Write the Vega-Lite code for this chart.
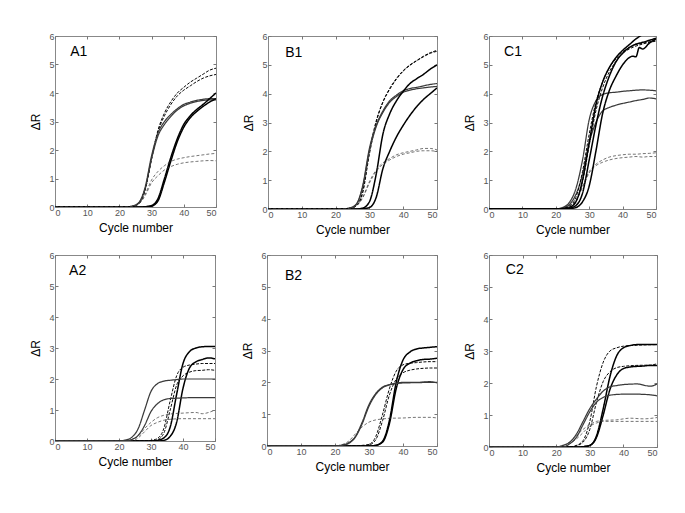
{
"$schema": "https://vega.github.io/schema/vega-lite/v6.json",
"padding": {"left": 29, "top": 31, "right": 5, "bottom": 5},
"background": "white",
"datasets": {"curves": [
{"p":"A1","k":"a","s":"D","x":0,"y":0},{"p":"A1","k":"a","s":"D","x":22,"y":0},{"p":"A1","k":"a","s":"D","x":24,"y":0.02},{"p":"A1","k":"a","s":"D","x":26,"y":0.12},{"p":"A1","k":"a","s":"D","x":28,"y":0.6},{"p":"A1","k":"a","s":"D","x":30,"y":1.7},{"p":"A1","k":"a","s":"D","x":32,"y":2.7},{"p":"A1","k":"a","s":"D","x":34,"y":3.3},{"p":"A1","k":"a","s":"D","x":36,"y":3.7},{"p":"A1","k":"a","s":"D","x":38,"y":4.0},{"p":"A1","k":"a","s":"D","x":40,"y":4.2},{"p":"A1","k":"a","s":"D","x":42,"y":4.38},{"p":"A1","k":"a","s":"D","x":44,"y":4.52},{"p":"A1","k":"a","s":"D","x":46,"y":4.66},{"p":"A1","k":"a","s":"D","x":48,"y":4.8},{"p":"A1","k":"a","s":"D","x":50,"y":4.87},
{"p":"A1","k":"b","s":"D","x":0,"y":0},{"p":"A1","k":"b","s":"D","x":22,"y":0},{"p":"A1","k":"b","s":"D","x":24,"y":0.02},{"p":"A1","k":"b","s":"D","x":26,"y":0.12},{"p":"A1","k":"b","s":"D","x":28,"y":0.6},{"p":"A1","k":"b","s":"D","x":30,"y":1.7},{"p":"A1","k":"b","s":"D","x":32,"y":2.65},{"p":"A1","k":"b","s":"D","x":34,"y":3.2},{"p":"A1","k":"b","s":"D","x":36,"y":3.6},{"p":"A1","k":"b","s":"D","x":38,"y":3.9},{"p":"A1","k":"b","s":"D","x":40,"y":4.1},{"p":"A1","k":"b","s":"D","x":42,"y":4.25},{"p":"A1","k":"b","s":"D","x":44,"y":4.4},{"p":"A1","k":"b","s":"D","x":46,"y":4.52},{"p":"A1","k":"b","s":"D","x":48,"y":4.6},{"p":"A1","k":"b","s":"D","x":50,"y":4.65},
{"p":"A1","k":"c","s":"t","x":0,"y":0},{"p":"A1","k":"c","s":"t","x":22,"y":0},{"p":"A1","k":"c","s":"t","x":24,"y":0.03},{"p":"A1","k":"c","s":"t","x":26,"y":0.15},{"p":"A1","k":"c","s":"t","x":28,"y":0.7},{"p":"A1","k":"c","s":"t","x":30,"y":1.8},{"p":"A1","k":"c","s":"t","x":32,"y":2.6},{"p":"A1","k":"c","s":"t","x":34,"y":3.0},{"p":"A1","k":"c","s":"t","x":36,"y":3.25},{"p":"A1","k":"c","s":"t","x":38,"y":3.45},{"p":"A1","k":"c","s":"t","x":40,"y":3.6},{"p":"A1","k":"c","s":"t","x":42,"y":3.68},{"p":"A1","k":"c","s":"t","x":44,"y":3.74},{"p":"A1","k":"c","s":"t","x":46,"y":3.78},{"p":"A1","k":"c","s":"t","x":48,"y":3.8},{"p":"A1","k":"c","s":"t","x":50,"y":3.8},
{"p":"A1","k":"d","s":"t","x":0,"y":0},{"p":"A1","k":"d","s":"t","x":22,"y":0},{"p":"A1","k":"d","s":"t","x":24,"y":0.03},{"p":"A1","k":"d","s":"t","x":26,"y":0.14},{"p":"A1","k":"d","s":"t","x":28,"y":0.65},{"p":"A1","k":"d","s":"t","x":30,"y":1.7},{"p":"A1","k":"d","s":"t","x":32,"y":2.5},{"p":"A1","k":"d","s":"t","x":34,"y":2.9},{"p":"A1","k":"d","s":"t","x":36,"y":3.18},{"p":"A1","k":"d","s":"t","x":38,"y":3.4},{"p":"A1","k":"d","s":"t","x":40,"y":3.55},{"p":"A1","k":"d","s":"t","x":42,"y":3.64},{"p":"A1","k":"d","s":"t","x":44,"y":3.7},{"p":"A1","k":"d","s":"t","x":46,"y":3.74},{"p":"A1","k":"d","s":"t","x":48,"y":3.76},{"p":"A1","k":"d","s":"t","x":50,"y":3.76},
{"p":"A1","k":"e","s":"T","x":0,"y":0},{"p":"A1","k":"e","s":"T","x":26,"y":0},{"p":"A1","k":"e","s":"T","x":28,"y":0.01},{"p":"A1","k":"e","s":"T","x":30,"y":0.05},{"p":"A1","k":"e","s":"T","x":32,"y":0.3},{"p":"A1","k":"e","s":"T","x":34,"y":1.0},{"p":"A1","k":"e","s":"T","x":36,"y":1.75},{"p":"A1","k":"e","s":"T","x":38,"y":2.4},{"p":"A1","k":"e","s":"T","x":40,"y":2.9},{"p":"A1","k":"e","s":"T","x":42,"y":3.2},{"p":"A1","k":"e","s":"T","x":44,"y":3.42},{"p":"A1","k":"e","s":"T","x":46,"y":3.6},{"p":"A1","k":"e","s":"T","x":48,"y":3.8},{"p":"A1","k":"e","s":"T","x":50,"y":4.0},
{"p":"A1","k":"f","s":"T","x":0,"y":0},{"p":"A1","k":"f","s":"T","x":26,"y":0},{"p":"A1","k":"f","s":"T","x":28,"y":0.01},{"p":"A1","k":"f","s":"T","x":30,"y":0.03},{"p":"A1","k":"f","s":"T","x":32,"y":0.22},{"p":"A1","k":"f","s":"T","x":34,"y":0.88},{"p":"A1","k":"f","s":"T","x":36,"y":1.62},{"p":"A1","k":"f","s":"T","x":38,"y":2.3},{"p":"A1","k":"f","s":"T","x":40,"y":2.8},{"p":"A1","k":"f","s":"T","x":42,"y":3.13},{"p":"A1","k":"f","s":"T","x":44,"y":3.35},{"p":"A1","k":"f","s":"T","x":46,"y":3.53},{"p":"A1","k":"f","s":"T","x":48,"y":3.68},{"p":"A1","k":"f","s":"T","x":50,"y":3.8},
{"p":"A1","k":"g","s":"d","x":0,"y":0},{"p":"A1","k":"g","s":"d","x":22,"y":0},{"p":"A1","k":"g","s":"d","x":24,"y":0.02},{"p":"A1","k":"g","s":"d","x":26,"y":0.1},{"p":"A1","k":"g","s":"d","x":28,"y":0.45},{"p":"A1","k":"g","s":"d","x":30,"y":0.95},{"p":"A1","k":"g","s":"d","x":32,"y":1.25},{"p":"A1","k":"g","s":"d","x":34,"y":1.45},{"p":"A1","k":"g","s":"d","x":36,"y":1.6},{"p":"A1","k":"g","s":"d","x":38,"y":1.68},{"p":"A1","k":"g","s":"d","x":40,"y":1.73},{"p":"A1","k":"g","s":"d","x":42,"y":1.77},{"p":"A1","k":"g","s":"d","x":44,"y":1.8},{"p":"A1","k":"g","s":"d","x":46,"y":1.83},{"p":"A1","k":"g","s":"d","x":48,"y":1.86},{"p":"A1","k":"g","s":"d","x":50,"y":1.88},
{"p":"A1","k":"h","s":"d","x":0,"y":0},{"p":"A1","k":"h","s":"d","x":22,"y":0},{"p":"A1","k":"h","s":"d","x":24,"y":0.02},{"p":"A1","k":"h","s":"d","x":26,"y":0.1},{"p":"A1","k":"h","s":"d","x":28,"y":0.4},{"p":"A1","k":"h","s":"d","x":30,"y":0.85},{"p":"A1","k":"h","s":"d","x":32,"y":1.1},{"p":"A1","k":"h","s":"d","x":34,"y":1.3},{"p":"A1","k":"h","s":"d","x":36,"y":1.42},{"p":"A1","k":"h","s":"d","x":38,"y":1.5},{"p":"A1","k":"h","s":"d","x":40,"y":1.55},{"p":"A1","k":"h","s":"d","x":42,"y":1.58},{"p":"A1","k":"h","s":"d","x":44,"y":1.6},{"p":"A1","k":"h","s":"d","x":46,"y":1.62},{"p":"A1","k":"h","s":"d","x":48,"y":1.63},{"p":"A1","k":"h","s":"d","x":50,"y":1.62},

{"p":"B1","k":"a","s":"D","x":0,"y":0},{"p":"B1","k":"a","s":"D","x":22,"y":0},{"p":"B1","k":"a","s":"D","x":24,"y":0.02},{"p":"B1","k":"a","s":"D","x":26,"y":0.1},{"p":"B1","k":"a","s":"D","x":28,"y":0.6},{"p":"B1","k":"a","s":"D","x":30,"y":2.0},{"p":"B1","k":"a","s":"D","x":32,"y":3.05},{"p":"B1","k":"a","s":"D","x":34,"y":3.72},{"p":"B1","k":"a","s":"D","x":36,"y":4.18},{"p":"B1","k":"a","s":"D","x":38,"y":4.53},{"p":"B1","k":"a","s":"D","x":40,"y":4.8},{"p":"B1","k":"a","s":"D","x":42,"y":5.0},{"p":"B1","k":"a","s":"D","x":44,"y":5.15},{"p":"B1","k":"a","s":"D","x":46,"y":5.3},{"p":"B1","k":"a","s":"D","x":48,"y":5.42},{"p":"B1","k":"a","s":"D","x":50,"y":5.5},
{"p":"B1","k":"b","s":"D","x":0,"y":0},{"p":"B1","k":"b","s":"D","x":22,"y":0},{"p":"B1","k":"b","s":"D","x":24,"y":0.02},{"p":"B1","k":"b","s":"D","x":26,"y":0.1},{"p":"B1","k":"b","s":"D","x":28,"y":0.55},{"p":"B1","k":"b","s":"D","x":30,"y":1.9},{"p":"B1","k":"b","s":"D","x":32,"y":3.0},{"p":"B1","k":"b","s":"D","x":34,"y":3.7},{"p":"B1","k":"b","s":"D","x":36,"y":4.15},{"p":"B1","k":"b","s":"D","x":38,"y":4.5},{"p":"B1","k":"b","s":"D","x":40,"y":4.78},{"p":"B1","k":"b","s":"D","x":42,"y":4.98},{"p":"B1","k":"b","s":"D","x":44,"y":5.14},{"p":"B1","k":"b","s":"D","x":46,"y":5.28},{"p":"B1","k":"b","s":"D","x":48,"y":5.4},{"p":"B1","k":"b","s":"D","x":50,"y":5.47},
{"p":"B1","k":"c","s":"t","x":0,"y":0},{"p":"B1","k":"c","s":"t","x":22,"y":0},{"p":"B1","k":"c","s":"t","x":24,"y":0.03},{"p":"B1","k":"c","s":"t","x":26,"y":0.15},{"p":"B1","k":"c","s":"t","x":28,"y":0.8},{"p":"B1","k":"c","s":"t","x":30,"y":2.1},{"p":"B1","k":"c","s":"t","x":32,"y":2.9},{"p":"B1","k":"c","s":"t","x":34,"y":3.4},{"p":"B1","k":"c","s":"t","x":36,"y":3.75},{"p":"B1","k":"c","s":"t","x":38,"y":3.95},{"p":"B1","k":"c","s":"t","x":40,"y":4.1},{"p":"B1","k":"c","s":"t","x":42,"y":4.18},{"p":"B1","k":"c","s":"t","x":44,"y":4.22},{"p":"B1","k":"c","s":"t","x":46,"y":4.27},{"p":"B1","k":"c","s":"t","x":48,"y":4.32},{"p":"B1","k":"c","s":"t","x":50,"y":4.35},
{"p":"B1","k":"d","s":"t","x":0,"y":0},{"p":"B1","k":"d","s":"t","x":22,"y":0},{"p":"B1","k":"d","s":"t","x":24,"y":0.03},{"p":"B1","k":"d","s":"t","x":26,"y":0.14},{"p":"B1","k":"d","s":"t","x":28,"y":0.75},{"p":"B1","k":"d","s":"t","x":30,"y":2.0},{"p":"B1","k":"d","s":"t","x":32,"y":2.85},{"p":"B1","k":"d","s":"t","x":34,"y":3.35},{"p":"B1","k":"d","s":"t","x":36,"y":3.7},{"p":"B1","k":"d","s":"t","x":38,"y":3.9},{"p":"B1","k":"d","s":"t","x":40,"y":4.05},{"p":"B1","k":"d","s":"t","x":42,"y":4.12},{"p":"B1","k":"d","s":"t","x":44,"y":4.17},{"p":"B1","k":"d","s":"t","x":46,"y":4.2},{"p":"B1","k":"d","s":"t","x":48,"y":4.23},{"p":"B1","k":"d","s":"t","x":50,"y":4.25},
{"p":"B1","k":"e","s":"T","x":0,"y":0},{"p":"B1","k":"e","s":"T","x":26,"y":0},{"p":"B1","k":"e","s":"T","x":28,"y":0.03},{"p":"B1","k":"e","s":"T","x":30,"y":0.25},{"p":"B1","k":"e","s":"T","x":32,"y":1.2},{"p":"B1","k":"e","s":"T","x":34,"y":2.6},{"p":"B1","k":"e","s":"T","x":36,"y":3.3},{"p":"B1","k":"e","s":"T","x":38,"y":3.75},{"p":"B1","k":"e","s":"T","x":40,"y":4.08},{"p":"B1","k":"e","s":"T","x":42,"y":4.35},{"p":"B1","k":"e","s":"T","x":44,"y":4.52},{"p":"B1","k":"e","s":"T","x":46,"y":4.67},{"p":"B1","k":"e","s":"T","x":48,"y":4.85},{"p":"B1","k":"e","s":"T","x":50,"y":5.0},
{"p":"B1","k":"f","s":"T","x":0,"y":0},{"p":"B1","k":"f","s":"T","x":26,"y":0},{"p":"B1","k":"f","s":"T","x":28,"y":0.01},{"p":"B1","k":"f","s":"T","x":30,"y":0.05},{"p":"B1","k":"f","s":"T","x":32,"y":0.4},{"p":"B1","k":"f","s":"T","x":34,"y":1.4},{"p":"B1","k":"f","s":"T","x":36,"y":2.0},{"p":"B1","k":"f","s":"T","x":38,"y":2.5},{"p":"B1","k":"f","s":"T","x":40,"y":2.9},{"p":"B1","k":"f","s":"T","x":42,"y":3.25},{"p":"B1","k":"f","s":"T","x":44,"y":3.55},{"p":"B1","k":"f","s":"T","x":46,"y":3.8},{"p":"B1","k":"f","s":"T","x":48,"y":4.0},{"p":"B1","k":"f","s":"T","x":50,"y":4.2},
{"p":"B1","k":"g","s":"d","x":0,"y":0},{"p":"B1","k":"g","s":"d","x":22,"y":0},{"p":"B1","k":"g","s":"d","x":24,"y":0.02},{"p":"B1","k":"g","s":"d","x":26,"y":0.1},{"p":"B1","k":"g","s":"d","x":28,"y":0.4},{"p":"B1","k":"g","s":"d","x":30,"y":0.95},{"p":"B1","k":"g","s":"d","x":32,"y":1.35},{"p":"B1","k":"g","s":"d","x":34,"y":1.6},{"p":"B1","k":"g","s":"d","x":36,"y":1.75},{"p":"B1","k":"g","s":"d","x":38,"y":1.88},{"p":"B1","k":"g","s":"d","x":40,"y":1.95},{"p":"B1","k":"g","s":"d","x":42,"y":2.0},{"p":"B1","k":"g","s":"d","x":44,"y":2.05},{"p":"B1","k":"g","s":"d","x":46,"y":2.1},{"p":"B1","k":"g","s":"d","x":48,"y":2.1},{"p":"B1","k":"g","s":"d","x":50,"y":2.05},
{"p":"B1","k":"h","s":"d","x":0,"y":0},{"p":"B1","k":"h","s":"d","x":22,"y":0},{"p":"B1","k":"h","s":"d","x":24,"y":0.02},{"p":"B1","k":"h","s":"d","x":26,"y":0.1},{"p":"B1","k":"h","s":"d","x":28,"y":0.38},{"p":"B1","k":"h","s":"d","x":30,"y":0.9},{"p":"B1","k":"h","s":"d","x":32,"y":1.3},{"p":"B1","k":"h","s":"d","x":34,"y":1.55},{"p":"B1","k":"h","s":"d","x":36,"y":1.7},{"p":"B1","k":"h","s":"d","x":38,"y":1.82},{"p":"B1","k":"h","s":"d","x":40,"y":1.9},{"p":"B1","k":"h","s":"d","x":42,"y":1.95},{"p":"B1","k":"h","s":"d","x":44,"y":2.0},{"p":"B1","k":"h","s":"d","x":46,"y":2.02},{"p":"B1","k":"h","s":"d","x":48,"y":2.02},{"p":"B1","k":"h","s":"d","x":50,"y":2.0},

{"p":"C1","k":"a","s":"t","x":0,"y":0},{"p":"C1","k":"a","s":"t","x":20,"y":0},{"p":"C1","k":"a","s":"t","x":22,"y":0.05},{"p":"C1","k":"a","s":"t","x":24,"y":0.22},{"p":"C1","k":"a","s":"t","x":26,"y":0.7},{"p":"C1","k":"a","s":"t","x":28,"y":1.7},{"p":"C1","k":"a","s":"t","x":30,"y":3.1},{"p":"C1","k":"a","s":"t","x":32,"y":3.75},{"p":"C1","k":"a","s":"t","x":34,"y":3.97},{"p":"C1","k":"a","s":"t","x":36,"y":4.03},{"p":"C1","k":"a","s":"t","x":38,"y":4.05},{"p":"C1","k":"a","s":"t","x":40,"y":4.08},{"p":"C1","k":"a","s":"t","x":42,"y":4.1},{"p":"C1","k":"a","s":"t","x":44,"y":4.12},{"p":"C1","k":"a","s":"t","x":46,"y":4.13},{"p":"C1","k":"a","s":"t","x":48,"y":4.12},{"p":"C1","k":"a","s":"t","x":50,"y":4.1},
{"p":"C1","k":"b","s":"t","x":0,"y":0},{"p":"C1","k":"b","s":"t","x":20,"y":0},{"p":"C1","k":"b","s":"t","x":22,"y":0.04},{"p":"C1","k":"b","s":"t","x":24,"y":0.15},{"p":"C1","k":"b","s":"t","x":26,"y":0.5},{"p":"C1","k":"b","s":"t","x":28,"y":1.2},{"p":"C1","k":"b","s":"t","x":30,"y":2.3},{"p":"C1","k":"b","s":"t","x":32,"y":3.0},{"p":"C1","k":"b","s":"t","x":34,"y":3.4},{"p":"C1","k":"b","s":"t","x":36,"y":3.52},{"p":"C1","k":"b","s":"t","x":38,"y":3.6},{"p":"C1","k":"b","s":"t","x":40,"y":3.66},{"p":"C1","k":"b","s":"t","x":42,"y":3.71},{"p":"C1","k":"b","s":"t","x":44,"y":3.76},{"p":"C1","k":"b","s":"t","x":46,"y":3.8},{"p":"C1","k":"b","s":"t","x":48,"y":3.85},{"p":"C1","k":"b","s":"t","x":50,"y":3.82},
{"p":"C1","k":"c","s":"d","x":0,"y":0},{"p":"C1","k":"c","s":"d","x":20,"y":0},{"p":"C1","k":"c","s":"d","x":22,"y":0.03},{"p":"C1","k":"c","s":"d","x":24,"y":0.12},{"p":"C1","k":"c","s":"d","x":26,"y":0.3},{"p":"C1","k":"c","s":"d","x":28,"y":0.8},{"p":"C1","k":"c","s":"d","x":30,"y":1.3},{"p":"C1","k":"c","s":"d","x":32,"y":1.55},{"p":"C1","k":"c","s":"d","x":34,"y":1.7},{"p":"C1","k":"c","s":"d","x":36,"y":1.8},{"p":"C1","k":"c","s":"d","x":38,"y":1.85},{"p":"C1","k":"c","s":"d","x":40,"y":1.88},{"p":"C1","k":"c","s":"d","x":42,"y":1.9},{"p":"C1","k":"c","s":"d","x":44,"y":1.9},{"p":"C1","k":"c","s":"d","x":46,"y":1.92},{"p":"C1","k":"c","s":"d","x":48,"y":1.93},{"p":"C1","k":"c","s":"d","x":50,"y":1.95},
{"p":"C1","k":"d","s":"d","x":0,"y":0},{"p":"C1","k":"d","s":"d","x":20,"y":0},{"p":"C1","k":"d","s":"d","x":22,"y":0.03},{"p":"C1","k":"d","s":"d","x":24,"y":0.1},{"p":"C1","k":"d","s":"d","x":26,"y":0.28},{"p":"C1","k":"d","s":"d","x":28,"y":0.75},{"p":"C1","k":"d","s":"d","x":30,"y":1.25},{"p":"C1","k":"d","s":"d","x":32,"y":1.5},{"p":"C1","k":"d","s":"d","x":34,"y":1.62},{"p":"C1","k":"d","s":"d","x":36,"y":1.7},{"p":"C1","k":"d","s":"d","x":38,"y":1.75},{"p":"C1","k":"d","s":"d","x":40,"y":1.78},{"p":"C1","k":"d","s":"d","x":42,"y":1.8},{"p":"C1","k":"d","s":"d","x":44,"y":1.82},{"p":"C1","k":"d","s":"d","x":46,"y":1.8},{"p":"C1","k":"d","s":"d","x":48,"y":1.82},{"p":"C1","k":"d","s":"d","x":50,"y":1.82},
{"p":"C1","k":"e","s":"D","x":0,"y":0},{"p":"C1","k":"e","s":"D","x":20,"y":0},{"p":"C1","k":"e","s":"D","x":22,"y":0.02},{"p":"C1","k":"e","s":"D","x":24,"y":0.1},{"p":"C1","k":"e","s":"D","x":26,"y":0.4},{"p":"C1","k":"e","s":"D","x":28,"y":1.3},{"p":"C1","k":"e","s":"D","x":30,"y":2.6},{"p":"C1","k":"e","s":"D","x":32,"y":3.7},{"p":"C1","k":"e","s":"D","x":34,"y":4.4},{"p":"C1","k":"e","s":"D","x":36,"y":4.9},{"p":"C1","k":"e","s":"D","x":38,"y":5.2},{"p":"C1","k":"e","s":"D","x":40,"y":5.45},{"p":"C1","k":"e","s":"D","x":42,"y":5.6},{"p":"C1","k":"e","s":"D","x":44,"y":5.7},{"p":"C1","k":"e","s":"D","x":46,"y":5.75},{"p":"C1","k":"e","s":"D","x":48,"y":5.8},{"p":"C1","k":"e","s":"D","x":50,"y":5.85},
{"p":"C1","k":"f","s":"D","x":0,"y":0},{"p":"C1","k":"f","s":"D","x":20,"y":0},{"p":"C1","k":"f","s":"D","x":22,"y":0.02},{"p":"C1","k":"f","s":"D","x":24,"y":0.06},{"p":"C1","k":"f","s":"D","x":26,"y":0.25},{"p":"C1","k":"f","s":"D","x":28,"y":0.95},{"p":"C1","k":"f","s":"D","x":30,"y":2.2},{"p":"C1","k":"f","s":"D","x":32,"y":3.4},{"p":"C1","k":"f","s":"D","x":34,"y":4.2},{"p":"C1","k":"f","s":"D","x":36,"y":4.75},{"p":"C1","k":"f","s":"D","x":38,"y":5.12},{"p":"C1","k":"f","s":"D","x":40,"y":5.4},{"p":"C1","k":"f","s":"D","x":42,"y":5.55},{"p":"C1","k":"f","s":"D","x":44,"y":5.65},{"p":"C1","k":"f","s":"D","x":46,"y":5.72},{"p":"C1","k":"f","s":"D","x":48,"y":5.78},{"p":"C1","k":"f","s":"D","x":50,"y":5.82},
{"p":"C1","k":"g","s":"T","x":0,"y":0},{"p":"C1","k":"g","s":"T","x":20,"y":0},{"p":"C1","k":"g","s":"T","x":22,"y":0.01},{"p":"C1","k":"g","s":"T","x":24,"y":0.05},{"p":"C1","k":"g","s":"T","x":26,"y":0.25},{"p":"C1","k":"g","s":"T","x":28,"y":1.0},{"p":"C1","k":"g","s":"T","x":30,"y":2.3},{"p":"C1","k":"g","s":"T","x":32,"y":3.6},{"p":"C1","k":"g","s":"T","x":34,"y":4.4},{"p":"C1","k":"g","s":"T","x":36,"y":4.9},{"p":"C1","k":"g","s":"T","x":38,"y":5.25},{"p":"C1","k":"g","s":"T","x":40,"y":5.5},{"p":"C1","k":"g","s":"T","x":42,"y":5.7},{"p":"C1","k":"g","s":"T","x":44,"y":5.9},{"p":"C1","k":"g","s":"T","x":46,"y":6.05},{"p":"C1","k":"g","s":"T","x":48,"y":6.2},{"p":"C1","k":"g","s":"T","x":50,"y":6.3},
{"p":"C1","k":"h","s":"T","x":0,"y":0},{"p":"C1","k":"h","s":"T","x":22,"y":0},{"p":"C1","k":"h","s":"T","x":24,"y":0.01},{"p":"C1","k":"h","s":"T","x":26,"y":0.05},{"p":"C1","k":"h","s":"T","x":28,"y":0.25},{"p":"C1","k":"h","s":"T","x":30,"y":0.8},{"p":"C1","k":"h","s":"T","x":32,"y":2.0},{"p":"C1","k":"h","s":"T","x":34,"y":3.3},{"p":"C1","k":"h","s":"T","x":36,"y":4.1},{"p":"C1","k":"h","s":"T","x":38,"y":4.6},{"p":"C1","k":"h","s":"T","x":40,"y":5.0},{"p":"C1","k":"h","s":"T","x":42,"y":5.25},{"p":"C1","k":"h","s":"T","x":43,"y":5.3},{"p":"C1","k":"h","s":"T","x":44,"y":5.28},{"p":"C1","k":"h","s":"T","x":45,"y":5.6},{"p":"C1","k":"h","s":"T","x":46,"y":5.55},{"p":"C1","k":"h","s":"T","x":48,"y":5.75},{"p":"C1","k":"h","s":"T","x":50,"y":5.9},
{"p":"C1","k":"i","s":"T","x":0,"y":0},{"p":"C1","k":"i","s":"T","x":22,"y":0},{"p":"C1","k":"i","s":"T","x":24,"y":0.03},{"p":"C1","k":"i","s":"T","x":26,"y":0.12},{"p":"C1","k":"i","s":"T","x":28,"y":0.55},{"p":"C1","k":"i","s":"T","x":30,"y":1.7},{"p":"C1","k":"i","s":"T","x":32,"y":2.9},{"p":"C1","k":"i","s":"T","x":34,"y":3.9},{"p":"C1","k":"i","s":"T","x":36,"y":4.6},{"p":"C1","k":"i","s":"T","x":38,"y":5.1},{"p":"C1","k":"i","s":"T","x":40,"y":5.4},{"p":"C1","k":"i","s":"T","x":42,"y":5.6},{"p":"C1","k":"i","s":"T","x":44,"y":5.72},{"p":"C1","k":"i","s":"T","x":46,"y":5.78},{"p":"C1","k":"i","s":"T","x":48,"y":5.85},{"p":"C1","k":"i","s":"T","x":50,"y":5.92},

{"p":"A2","k":"a","s":"T","x":0,"y":0},{"p":"A2","k":"a","s":"T","x":30,"y":0},{"p":"A2","k":"a","s":"T","x":32,"y":0.02},{"p":"A2","k":"a","s":"T","x":34,"y":0.1},{"p":"A2","k":"a","s":"T","x":36,"y":0.45},{"p":"A2","k":"a","s":"T","x":38,"y":1.5},{"p":"A2","k":"a","s":"T","x":40,"y":2.5},{"p":"A2","k":"a","s":"T","x":42,"y":2.88},{"p":"A2","k":"a","s":"T","x":44,"y":3.0},{"p":"A2","k":"a","s":"T","x":46,"y":3.04},{"p":"A2","k":"a","s":"T","x":48,"y":3.05},{"p":"A2","k":"a","s":"T","x":50,"y":3.05},
{"p":"A2","k":"b","s":"T","x":0,"y":0},{"p":"A2","k":"b","s":"T","x":32,"y":0},{"p":"A2","k":"b","s":"T","x":34,"y":0.02},{"p":"A2","k":"b","s":"T","x":36,"y":0.15},{"p":"A2","k":"b","s":"T","x":38,"y":0.6},{"p":"A2","k":"b","s":"T","x":40,"y":1.7},{"p":"A2","k":"b","s":"T","x":42,"y":2.35},{"p":"A2","k":"b","s":"T","x":44,"y":2.55},{"p":"A2","k":"b","s":"T","x":46,"y":2.63},{"p":"A2","k":"b","s":"T","x":48,"y":2.68},{"p":"A2","k":"b","s":"T","x":50,"y":2.65},
{"p":"A2","k":"c","s":"D","x":0,"y":0},{"p":"A2","k":"c","s":"D","x":28,"y":0},{"p":"A2","k":"c","s":"D","x":30,"y":0.02},{"p":"A2","k":"c","s":"D","x":32,"y":0.08},{"p":"A2","k":"c","s":"D","x":34,"y":0.4},{"p":"A2","k":"c","s":"D","x":36,"y":1.3},{"p":"A2","k":"c","s":"D","x":38,"y":2.1},{"p":"A2","k":"c","s":"D","x":40,"y":2.38},{"p":"A2","k":"c","s":"D","x":42,"y":2.45},{"p":"A2","k":"c","s":"D","x":44,"y":2.48},{"p":"A2","k":"c","s":"D","x":46,"y":2.5},{"p":"A2","k":"c","s":"D","x":48,"y":2.5},{"p":"A2","k":"c","s":"D","x":50,"y":2.5},
{"p":"A2","k":"d","s":"D","x":0,"y":0},{"p":"A2","k":"d","s":"D","x":30,"y":0},{"p":"A2","k":"d","s":"D","x":32,"y":0.04},{"p":"A2","k":"d","s":"D","x":34,"y":0.25},{"p":"A2","k":"d","s":"D","x":36,"y":1.0},{"p":"A2","k":"d","s":"D","x":38,"y":1.8},{"p":"A2","k":"d","s":"D","x":40,"y":2.1},{"p":"A2","k":"d","s":"D","x":42,"y":2.22},{"p":"A2","k":"d","s":"D","x":44,"y":2.27},{"p":"A2","k":"d","s":"D","x":46,"y":2.28},{"p":"A2","k":"d","s":"D","x":48,"y":2.3},{"p":"A2","k":"d","s":"D","x":50,"y":2.28},
{"p":"A2","k":"e","s":"t","x":0,"y":0},{"p":"A2","k":"e","s":"t","x":20,"y":0},{"p":"A2","k":"e","s":"t","x":22,"y":0.03},{"p":"A2","k":"e","s":"t","x":24,"y":0.12},{"p":"A2","k":"e","s":"t","x":26,"y":0.4},{"p":"A2","k":"e","s":"t","x":28,"y":1.0},{"p":"A2","k":"e","s":"t","x":30,"y":1.6},{"p":"A2","k":"e","s":"t","x":32,"y":1.85},{"p":"A2","k":"e","s":"t","x":34,"y":1.93},{"p":"A2","k":"e","s":"t","x":36,"y":1.96},{"p":"A2","k":"e","s":"t","x":38,"y":1.98},{"p":"A2","k":"e","s":"t","x":40,"y":2.0},{"p":"A2","k":"e","s":"t","x":44,"y":2.0},{"p":"A2","k":"e","s":"t","x":50,"y":2.0},
{"p":"A2","k":"f","s":"t","x":0,"y":0},{"p":"A2","k":"f","s":"t","x":22,"y":0},{"p":"A2","k":"f","s":"t","x":24,"y":0.05},{"p":"A2","k":"f","s":"t","x":26,"y":0.18},{"p":"A2","k":"f","s":"t","x":28,"y":0.5},{"p":"A2","k":"f","s":"t","x":30,"y":0.95},{"p":"A2","k":"f","s":"t","x":32,"y":1.2},{"p":"A2","k":"f","s":"t","x":34,"y":1.33},{"p":"A2","k":"f","s":"t","x":36,"y":1.37},{"p":"A2","k":"f","s":"t","x":38,"y":1.38},{"p":"A2","k":"f","s":"t","x":40,"y":1.39},{"p":"A2","k":"f","s":"t","x":44,"y":1.4},{"p":"A2","k":"f","s":"t","x":50,"y":1.4},
{"p":"A2","k":"g","s":"d","x":0,"y":0},{"p":"A2","k":"g","s":"d","x":22,"y":0},{"p":"A2","k":"g","s":"d","x":24,"y":0.05},{"p":"A2","k":"g","s":"d","x":26,"y":0.15},{"p":"A2","k":"g","s":"d","x":28,"y":0.4},{"p":"A2","k":"g","s":"d","x":30,"y":0.6},{"p":"A2","k":"g","s":"d","x":32,"y":0.75},{"p":"A2","k":"g","s":"d","x":34,"y":0.83},{"p":"A2","k":"g","s":"d","x":36,"y":0.87},{"p":"A2","k":"g","s":"d","x":40,"y":0.9},{"p":"A2","k":"g","s":"d","x":44,"y":0.92},{"p":"A2","k":"g","s":"d","x":46,"y":0.88},{"p":"A2","k":"g","s":"d","x":48,"y":0.92},{"p":"A2","k":"g","s":"d","x":50,"y":1.0},
{"p":"A2","k":"h","s":"d","x":0,"y":0},{"p":"A2","k":"h","s":"d","x":24,"y":0},{"p":"A2","k":"h","s":"d","x":26,"y":0.1},{"p":"A2","k":"h","s":"d","x":28,"y":0.3},{"p":"A2","k":"h","s":"d","x":30,"y":0.5},{"p":"A2","k":"h","s":"d","x":32,"y":0.6},{"p":"A2","k":"h","s":"d","x":34,"y":0.67},{"p":"A2","k":"h","s":"d","x":36,"y":0.7},{"p":"A2","k":"h","s":"d","x":40,"y":0.72},{"p":"A2","k":"h","s":"d","x":44,"y":0.72},{"p":"A2","k":"h","s":"d","x":50,"y":0.72},

{"p":"B2","k":"a","s":"T","x":0,"y":0},{"p":"B2","k":"a","s":"T","x":30,"y":0},{"p":"B2","k":"a","s":"T","x":32,"y":0.02},{"p":"B2","k":"a","s":"T","x":34,"y":0.15},{"p":"B2","k":"a","s":"T","x":36,"y":0.8},{"p":"B2","k":"a","s":"T","x":38,"y":2.0},{"p":"B2","k":"a","s":"T","x":40,"y":2.7},{"p":"B2","k":"a","s":"T","x":42,"y":2.95},{"p":"B2","k":"a","s":"T","x":44,"y":3.05},{"p":"B2","k":"a","s":"T","x":46,"y":3.08},{"p":"B2","k":"a","s":"T","x":48,"y":3.1},{"p":"B2","k":"a","s":"T","x":50,"y":3.12},
{"p":"B2","k":"b","s":"T","x":0,"y":0},{"p":"B2","k":"b","s":"T","x":30,"y":0},{"p":"B2","k":"b","s":"T","x":32,"y":0.02},{"p":"B2","k":"b","s":"T","x":34,"y":0.12},{"p":"B2","k":"b","s":"T","x":36,"y":0.7},{"p":"B2","k":"b","s":"T","x":38,"y":1.8},{"p":"B2","k":"b","s":"T","x":40,"y":2.4},{"p":"B2","k":"b","s":"T","x":42,"y":2.6},{"p":"B2","k":"b","s":"T","x":44,"y":2.68},{"p":"B2","k":"b","s":"T","x":46,"y":2.72},{"p":"B2","k":"b","s":"T","x":48,"y":2.73},{"p":"B2","k":"b","s":"T","x":50,"y":2.76},
{"p":"B2","k":"c","s":"D","x":0,"y":0},{"p":"B2","k":"c","s":"D","x":26,"y":0},{"p":"B2","k":"c","s":"D","x":28,"y":0.02},{"p":"B2","k":"c","s":"D","x":30,"y":0.05},{"p":"B2","k":"c","s":"D","x":32,"y":0.3},{"p":"B2","k":"c","s":"D","x":34,"y":1.0},{"p":"B2","k":"c","s":"D","x":36,"y":1.8},{"p":"B2","k":"c","s":"D","x":38,"y":2.35},{"p":"B2","k":"c","s":"D","x":40,"y":2.55},{"p":"B2","k":"c","s":"D","x":42,"y":2.6},{"p":"B2","k":"c","s":"D","x":44,"y":2.62},{"p":"B2","k":"c","s":"D","x":46,"y":2.64},{"p":"B2","k":"c","s":"D","x":48,"y":2.65},{"p":"B2","k":"c","s":"D","x":50,"y":2.65},
{"p":"B2","k":"d","s":"D","x":0,"y":0},{"p":"B2","k":"d","s":"D","x":28,"y":0},{"p":"B2","k":"d","s":"D","x":30,"y":0.03},{"p":"B2","k":"d","s":"D","x":32,"y":0.2},{"p":"B2","k":"d","s":"D","x":34,"y":0.8},{"p":"B2","k":"d","s":"D","x":36,"y":1.6},{"p":"B2","k":"d","s":"D","x":38,"y":2.1},{"p":"B2","k":"d","s":"D","x":40,"y":2.3},{"p":"B2","k":"d","s":"D","x":42,"y":2.38},{"p":"B2","k":"d","s":"D","x":44,"y":2.42},{"p":"B2","k":"d","s":"D","x":46,"y":2.44},{"p":"B2","k":"d","s":"D","x":48,"y":2.45},{"p":"B2","k":"d","s":"D","x":50,"y":2.45},
{"p":"B2","k":"e","s":"t","x":0,"y":0},{"p":"B2","k":"e","s":"t","x":20,"y":0},{"p":"B2","k":"e","s":"t","x":22,"y":0.03},{"p":"B2","k":"e","s":"t","x":24,"y":0.1},{"p":"B2","k":"e","s":"t","x":26,"y":0.3},{"p":"B2","k":"e","s":"t","x":28,"y":0.75},{"p":"B2","k":"e","s":"t","x":30,"y":1.3},{"p":"B2","k":"e","s":"t","x":32,"y":1.65},{"p":"B2","k":"e","s":"t","x":34,"y":1.85},{"p":"B2","k":"e","s":"t","x":36,"y":1.93},{"p":"B2","k":"e","s":"t","x":38,"y":1.97},{"p":"B2","k":"e","s":"t","x":40,"y":2.0},{"p":"B2","k":"e","s":"t","x":44,"y":2.0},{"p":"B2","k":"e","s":"t","x":48,"y":2.02},{"p":"B2","k":"e","s":"t","x":50,"y":1.98},
{"p":"B2","k":"f","s":"t","x":0,"y":0},{"p":"B2","k":"f","s":"t","x":20,"y":0},{"p":"B2","k":"f","s":"t","x":22,"y":0.02},{"p":"B2","k":"f","s":"t","x":24,"y":0.08},{"p":"B2","k":"f","s":"t","x":26,"y":0.28},{"p":"B2","k":"f","s":"t","x":28,"y":0.7},{"p":"B2","k":"f","s":"t","x":30,"y":1.25},{"p":"B2","k":"f","s":"t","x":32,"y":1.62},{"p":"B2","k":"f","s":"t","x":34,"y":1.83},{"p":"B2","k":"f","s":"t","x":36,"y":1.92},{"p":"B2","k":"f","s":"t","x":38,"y":1.96},{"p":"B2","k":"f","s":"t","x":40,"y":1.98},{"p":"B2","k":"f","s":"t","x":44,"y":1.99},{"p":"B2","k":"f","s":"t","x":48,"y":2.0},{"p":"B2","k":"f","s":"t","x":50,"y":2.0},
{"p":"B2","k":"g","s":"d","x":0,"y":0},{"p":"B2","k":"g","s":"d","x":20,"y":0},{"p":"B2","k":"g","s":"d","x":22,"y":0.04},{"p":"B2","k":"g","s":"d","x":24,"y":0.15},{"p":"B2","k":"g","s":"d","x":26,"y":0.38},{"p":"B2","k":"g","s":"d","x":28,"y":0.6},{"p":"B2","k":"g","s":"d","x":30,"y":0.75},{"p":"B2","k":"g","s":"d","x":32,"y":0.82},{"p":"B2","k":"g","s":"d","x":34,"y":0.85},{"p":"B2","k":"g","s":"d","x":36,"y":0.87},{"p":"B2","k":"g","s":"d","x":40,"y":0.88},{"p":"B2","k":"g","s":"d","x":44,"y":0.9},{"p":"B2","k":"g","s":"d","x":48,"y":0.9},{"p":"B2","k":"g","s":"d","x":50,"y":0.88},

{"p":"C2","k":"a","s":"T","x":0,"y":0},{"p":"C2","k":"a","s":"T","x":26,"y":0},{"p":"C2","k":"a","s":"T","x":28,"y":0.01},{"p":"C2","k":"a","s":"T","x":30,"y":0.05},{"p":"C2","k":"a","s":"T","x":32,"y":0.35},{"p":"C2","k":"a","s":"T","x":34,"y":1.2},{"p":"C2","k":"a","s":"T","x":36,"y":2.2},{"p":"C2","k":"a","s":"T","x":38,"y":2.85},{"p":"C2","k":"a","s":"T","x":40,"y":3.1},{"p":"C2","k":"a","s":"T","x":42,"y":3.17},{"p":"C2","k":"a","s":"T","x":44,"y":3.2},{"p":"C2","k":"a","s":"T","x":46,"y":3.2},{"p":"C2","k":"a","s":"T","x":48,"y":3.2},{"p":"C2","k":"a","s":"T","x":50,"y":3.2},
{"p":"C2","k":"b","s":"D","x":0,"y":0},{"p":"C2","k":"b","s":"D","x":24,"y":0},{"p":"C2","k":"b","s":"D","x":26,"y":0.05},{"p":"C2","k":"b","s":"D","x":28,"y":0.2},{"p":"C2","k":"b","s":"D","x":30,"y":0.8},{"p":"C2","k":"b","s":"D","x":32,"y":1.9},{"p":"C2","k":"b","s":"D","x":34,"y":2.65},{"p":"C2","k":"b","s":"D","x":36,"y":3.0},{"p":"C2","k":"b","s":"D","x":38,"y":3.1},{"p":"C2","k":"b","s":"D","x":40,"y":3.15},{"p":"C2","k":"b","s":"D","x":44,"y":3.18},{"p":"C2","k":"b","s":"D","x":50,"y":3.2},
{"p":"C2","k":"c","s":"T","x":0,"y":0},{"p":"C2","k":"c","s":"T","x":26,"y":0},{"p":"C2","k":"c","s":"T","x":28,"y":0.01},{"p":"C2","k":"c","s":"T","x":30,"y":0.05},{"p":"C2","k":"c","s":"T","x":32,"y":0.3},{"p":"C2","k":"c","s":"T","x":34,"y":1.0},{"p":"C2","k":"c","s":"T","x":36,"y":1.8},{"p":"C2","k":"c","s":"T","x":38,"y":2.25},{"p":"C2","k":"c","s":"T","x":40,"y":2.45},{"p":"C2","k":"c","s":"T","x":42,"y":2.5},{"p":"C2","k":"c","s":"T","x":44,"y":2.52},{"p":"C2","k":"c","s":"T","x":46,"y":2.53},{"p":"C2","k":"c","s":"T","x":48,"y":2.55},{"p":"C2","k":"c","s":"T","x":50,"y":2.55},
{"p":"C2","k":"d","s":"D","x":0,"y":0},{"p":"C2","k":"d","s":"D","x":24,"y":0},{"p":"C2","k":"d","s":"D","x":26,"y":0.04},{"p":"C2","k":"d","s":"D","x":28,"y":0.15},{"p":"C2","k":"d","s":"D","x":30,"y":0.55},{"p":"C2","k":"d","s":"D","x":32,"y":1.4},{"p":"C2","k":"d","s":"D","x":34,"y":2.05},{"p":"C2","k":"d","s":"D","x":36,"y":2.35},{"p":"C2","k":"d","s":"D","x":38,"y":2.48},{"p":"C2","k":"d","s":"D","x":40,"y":2.52},{"p":"C2","k":"d","s":"D","x":44,"y":2.55},{"p":"C2","k":"d","s":"D","x":48,"y":2.56},{"p":"C2","k":"d","s":"D","x":50,"y":2.6},
{"p":"C2","k":"e","s":"t","x":0,"y":0},{"p":"C2","k":"e","s":"t","x":20,"y":0},{"p":"C2","k":"e","s":"t","x":22,"y":0.05},{"p":"C2","k":"e","s":"t","x":24,"y":0.15},{"p":"C2","k":"e","s":"t","x":26,"y":0.4},{"p":"C2","k":"e","s":"t","x":28,"y":0.8},{"p":"C2","k":"e","s":"t","x":30,"y":1.2},{"p":"C2","k":"e","s":"t","x":32,"y":1.5},{"p":"C2","k":"e","s":"t","x":34,"y":1.75},{"p":"C2","k":"e","s":"t","x":36,"y":1.88},{"p":"C2","k":"e","s":"t","x":38,"y":1.92},{"p":"C2","k":"e","s":"t","x":40,"y":1.95},{"p":"C2","k":"e","s":"t","x":44,"y":1.97},{"p":"C2","k":"e","s":"t","x":48,"y":1.9},{"p":"C2","k":"e","s":"t","x":50,"y":1.97},
{"p":"C2","k":"f","s":"t","x":0,"y":0},{"p":"C2","k":"f","s":"t","x":22,"y":0},{"p":"C2","k":"f","s":"t","x":24,"y":0.1},{"p":"C2","k":"f","s":"t","x":26,"y":0.3},{"p":"C2","k":"f","s":"t","x":28,"y":0.7},{"p":"C2","k":"f","s":"t","x":30,"y":1.1},{"p":"C2","k":"f","s":"t","x":32,"y":1.4},{"p":"C2","k":"f","s":"t","x":34,"y":1.55},{"p":"C2","k":"f","s":"t","x":36,"y":1.62},{"p":"C2","k":"f","s":"t","x":40,"y":1.65},{"p":"C2","k":"f","s":"t","x":44,"y":1.65},{"p":"C2","k":"f","s":"t","x":48,"y":1.63},{"p":"C2","k":"f","s":"t","x":50,"y":1.6},
{"p":"C2","k":"g","s":"d","x":0,"y":0},{"p":"C2","k":"g","s":"d","x":20,"y":0},{"p":"C2","k":"g","s":"d","x":22,"y":0.05},{"p":"C2","k":"g","s":"d","x":24,"y":0.15},{"p":"C2","k":"g","s":"d","x":26,"y":0.35},{"p":"C2","k":"g","s":"d","x":28,"y":0.55},{"p":"C2","k":"g","s":"d","x":30,"y":0.7},{"p":"C2","k":"g","s":"d","x":32,"y":0.8},{"p":"C2","k":"g","s":"d","x":34,"y":0.83},{"p":"C2","k":"g","s":"d","x":38,"y":0.85},{"p":"C2","k":"g","s":"d","x":42,"y":0.9},{"p":"C2","k":"g","s":"d","x":46,"y":0.88},{"p":"C2","k":"g","s":"d","x":50,"y":0.92},
{"p":"C2","k":"h","s":"d","x":0,"y":0},{"p":"C2","k":"h","s":"d","x":22,"y":0},{"p":"C2","k":"h","s":"d","x":24,"y":0.1},{"p":"C2","k":"h","s":"d","x":26,"y":0.25},{"p":"C2","k":"h","s":"d","x":28,"y":0.45},{"p":"C2","k":"h","s":"d","x":30,"y":0.65},{"p":"C2","k":"h","s":"d","x":32,"y":0.75},{"p":"C2","k":"h","s":"d","x":34,"y":0.8},{"p":"C2","k":"h","s":"d","x":40,"y":0.8},{"p":"C2","k":"h","s":"d","x":50,"y":0.8}
]},
"spacing": 14,
"vconcat": [
{"hconcat": [
{"width": 161, "height": 171, "layer": [
 {"data": {"name": "curves"}, "transform": [{"filter": "datum.p === 'A1'"}], "mark": {"type": "line", "interpolate": "monotone", "clip": true},
  "encoding": {"x": {"field": "x", "type": "quantitative", "scale": {"domain": [0, 50], "nice": false}, "axis": {"orient": "bottom", "values": [0,10,20,30,40,50], "title": "Cycle number"}},
   "y": {"field": "y", "type": "quantitative", "scale": {"domain": [0, 6], "nice": false}, "axis": {"orient": "left", "values": [0,1,2,3,4,5,6], "title": "ΔR"}},
   "detail": {"field": "k"},
   "strokeWidth": {"field": "s", "type": "nominal", "scale": {"domain": ["T","t","D","d"], "range": [1.5, 0.7, 1.5, 0.7]}, "legend": null},
   "strokeDash": {"field": "s", "type": "nominal", "scale": {"domain": ["T","t","D","d"], "range": [[1,0],[1,0],[3,1.5],[3,2]]}, "legend": null},
   "color": {"field": "s", "type": "nominal", "scale": {"domain": ["T","t","D","d"], "range": ["#000","#3a3a3a","#000","#3a3a3a"]}, "legend": null}}},
 {"data": {"values": [{"t": "A1", "x": 4.7, "y": 5.45}]}, "mark": {"type": "text", "align": "left", "baseline": "middle", "fontSize": 14, "color": "#000"},
  "encoding": {"x": {"field": "x", "type": "quantitative", "scale": {"domain": [0, 50], "nice": false}, "axis": {"orient": "top", "values": [0,10,20,30,40,50], "labels": false, "title": null}},
   "y": {"field": "y", "type": "quantitative", "scale": {"domain": [0, 6], "nice": false}, "axis": {"orient": "right", "values": [0,1,2,3,4,5,6], "labels": false, "title": null}},
   "text": {"field": "t"}}}
], "resolve": {"axis": {"x": "independent", "y": "independent"}}},
{"width": 169, "height": 173, "layer": [
 {"data": {"name": "curves"}, "transform": [{"filter": "datum.p === 'B1'"}], "mark": {"type": "line", "interpolate": "monotone", "clip": true},
  "encoding": {"x": {"field": "x", "type": "quantitative", "scale": {"domain": [0, 50], "nice": false}, "axis": {"orient": "bottom", "values": [0,10,20,30,40,50], "title": "Cycle number"}},
   "y": {"field": "y", "type": "quantitative", "scale": {"domain": [0, 6], "nice": false}, "axis": {"orient": "left", "values": [0,1,2,3,4,5,6], "title": "ΔR"}},
   "detail": {"field": "k"},
   "strokeWidth": {"field": "s", "type": "nominal", "scale": {"domain": ["T","t","D","d"], "range": [1.5, 0.7, 1.5, 0.7]}, "legend": null},
   "strokeDash": {"field": "s", "type": "nominal", "scale": {"domain": ["T","t","D","d"], "range": [[1,0],[1,0],[3,1.5],[3,2]]}, "legend": null},
   "color": {"field": "s", "type": "nominal", "scale": {"domain": ["T","t","D","d"], "range": ["#000","#3a3a3a","#000","#3a3a3a"]}, "legend": null}}},
 {"data": {"values": [{"t": "B1", "x": 5.1, "y": 5.4}]}, "mark": {"type": "text", "align": "left", "baseline": "middle", "fontSize": 14, "color": "#000"},
  "encoding": {"x": {"field": "x", "type": "quantitative", "scale": {"domain": [0, 50], "nice": false}, "axis": {"orient": "top", "values": [0,10,20,30,40,50], "labels": false, "title": null}},
   "y": {"field": "y", "type": "quantitative", "scale": {"domain": [0, 6], "nice": false}, "axis": {"orient": "right", "values": [0,1,2,3,4,5,6], "labels": false, "title": null}},
   "text": {"field": "t"}}}
], "resolve": {"axis": {"x": "independent", "y": "independent"}}},
{"width": 167, "height": 173, "layer": [
 {"data": {"name": "curves"}, "transform": [{"filter": "datum.p === 'C1'"}], "mark": {"type": "line", "interpolate": "monotone", "clip": true},
  "encoding": {"x": {"field": "x", "type": "quantitative", "scale": {"domain": [0, 50], "nice": false}, "axis": {"orient": "bottom", "values": [0,10,20,30,40,50], "title": "Cycle number"}},
   "y": {"field": "y", "type": "quantitative", "scale": {"domain": [0, 6], "nice": false}, "axis": {"orient": "left", "values": [0,1,2,3,4,5,6], "title": "ΔR"}},
   "detail": {"field": "k"},
   "strokeWidth": {"field": "s", "type": "nominal", "scale": {"domain": ["T","t","D","d"], "range": [1.5, 0.7, 1.5, 0.7]}, "legend": null},
   "strokeDash": {"field": "s", "type": "nominal", "scale": {"domain": ["T","t","D","d"], "range": [[1,0],[1,0],[3,1.5],[3,2]]}, "legend": null},
   "color": {"field": "s", "type": "nominal", "scale": {"domain": ["T","t","D","d"], "range": ["#000","#3a3a3a","#000","#3a3a3a"]}, "legend": null}}},
 {"data": {"values": [{"t": "C1", "x": 4.5, "y": 5.45}]}, "mark": {"type": "text", "align": "left", "baseline": "middle", "fontSize": 14, "color": "#000"},
  "encoding": {"x": {"field": "x", "type": "quantitative", "scale": {"domain": [0, 50], "nice": false}, "axis": {"orient": "top", "values": [0,10,20,30,40,50], "labels": false, "title": null}},
   "y": {"field": "y", "type": "quantitative", "scale": {"domain": [0, 6], "nice": false}, "axis": {"orient": "right", "values": [0,1,2,3,4,5,6], "labels": false, "title": null}},
   "text": {"field": "t"}}}
], "resolve": {"axis": {"x": "independent", "y": "independent"}}}
], "spacing": 25},
{"hconcat": [
{"width": 160, "height": 186, "layer": [
 {"data": {"name": "curves"}, "transform": [{"filter": "datum.p === 'A2'"}], "mark": {"type": "line", "interpolate": "monotone", "clip": true},
  "encoding": {"x": {"field": "x", "type": "quantitative", "scale": {"domain": [0, 50], "nice": false}, "axis": {"orient": "bottom", "values": [0,10,20,30,40,50], "title": "Cycle number"}},
   "y": {"field": "y", "type": "quantitative", "scale": {"domain": [0, 6], "nice": false}, "axis": {"orient": "left", "values": [0,1,2,3,4,5,6], "title": "ΔR"}},
   "detail": {"field": "k"},
   "strokeWidth": {"field": "s", "type": "nominal", "scale": {"domain": ["T","t","D","d"], "range": [1.5, 0.7, 1.5, 0.7]}, "legend": null},
   "strokeDash": {"field": "s", "type": "nominal", "scale": {"domain": ["T","t","D","d"], "range": [[1,0],[1,0],[3,1.5],[3,2]]}, "legend": null},
   "color": {"field": "s", "type": "nominal", "scale": {"domain": ["T","t","D","d"], "range": ["#000","#3a3a3a","#000","#3a3a3a"]}, "legend": null}}},
 {"data": {"values": [{"t": "A2", "x": 4.4, "y": 5.48}]}, "mark": {"type": "text", "align": "left", "baseline": "middle", "fontSize": 14, "color": "#000"},
  "encoding": {"x": {"field": "x", "type": "quantitative", "scale": {"domain": [0, 50], "nice": false}, "axis": {"orient": "top", "values": [0,10,20,30,40,50], "labels": false, "title": null}},
   "y": {"field": "y", "type": "quantitative", "scale": {"domain": [0, 6], "nice": false}, "axis": {"orient": "right", "values": [0,1,2,3,4,5,6], "labels": false, "title": null}},
   "text": {"field": "t"}}}
], "resolve": {"axis": {"x": "independent", "y": "independent"}}},
{"width": 170, "height": 191, "layer": [
 {"data": {"name": "curves"}, "transform": [{"filter": "datum.p === 'B2'"}], "mark": {"type": "line", "interpolate": "monotone", "clip": true},
  "encoding": {"x": {"field": "x", "type": "quantitative", "scale": {"domain": [0, 50], "nice": false}, "axis": {"orient": "bottom", "values": [0,10,20,30,40,50], "title": "Cycle number"}},
   "y": {"field": "y", "type": "quantitative", "scale": {"domain": [0, 6], "nice": false}, "axis": {"orient": "left", "values": [0,1,2,3,4,5,6], "title": "ΔR"}},
   "detail": {"field": "k"},
   "strokeWidth": {"field": "s", "type": "nominal", "scale": {"domain": ["T","t","D","d"], "range": [1.5, 0.7, 1.5, 0.7]}, "legend": null},
   "strokeDash": {"field": "s", "type": "nominal", "scale": {"domain": ["T","t","D","d"], "range": [[1,0],[1,0],[3,1.5],[3,2]]}, "legend": null},
   "color": {"field": "s", "type": "nominal", "scale": {"domain": ["T","t","D","d"], "range": ["#000","#3a3a3a","#000","#3a3a3a"]}, "legend": null}}},
 {"data": {"values": [{"t": "B2", "x": 5.3, "y": 5.34}]}, "mark": {"type": "text", "align": "left", "baseline": "middle", "fontSize": 14, "color": "#000"},
  "encoding": {"x": {"field": "x", "type": "quantitative", "scale": {"domain": [0, 50], "nice": false}, "axis": {"orient": "top", "values": [0,10,20,30,40,50], "labels": false, "title": null}},
   "y": {"field": "y", "type": "quantitative", "scale": {"domain": [0, 6], "nice": false}, "axis": {"orient": "right", "values": [0,1,2,3,4,5,6], "labels": false, "title": null}},
   "text": {"field": "t"}}}
], "resolve": {"axis": {"x": "independent", "y": "independent"}}},
{"width": 168, "height": 192, "layer": [
 {"data": {"name": "curves"}, "transform": [{"filter": "datum.p === 'C2'"}], "mark": {"type": "line", "interpolate": "monotone", "clip": true},
  "encoding": {"x": {"field": "x", "type": "quantitative", "scale": {"domain": [0, 50], "nice": false}, "axis": {"orient": "bottom", "values": [0,10,20,30,40,50], "title": "Cycle number"}},
   "y": {"field": "y", "type": "quantitative", "scale": {"domain": [0, 6], "nice": false}, "axis": {"orient": "left", "values": [0,1,2,3,4,5,6], "title": "ΔR"}},
   "detail": {"field": "k"},
   "strokeWidth": {"field": "s", "type": "nominal", "scale": {"domain": ["T","t","D","d"], "range": [1.5, 0.7, 1.5, 0.7]}, "legend": null},
   "strokeDash": {"field": "s", "type": "nominal", "scale": {"domain": ["T","t","D","d"], "range": [[1,0],[1,0],[3,1.5],[3,2]]}, "legend": null},
   "color": {"field": "s", "type": "nominal", "scale": {"domain": ["T","t","D","d"], "range": ["#000","#3a3a3a","#000","#3a3a3a"]}, "legend": null}}},
 {"data": {"values": [{"t": "C2", "x": 5.0, "y": 5.53}]}, "mark": {"type": "text", "align": "left", "baseline": "middle", "fontSize": 14, "color": "#000"},
  "encoding": {"x": {"field": "x", "type": "quantitative", "scale": {"domain": [0, 50], "nice": false}, "axis": {"orient": "top", "values": [0,10,20,30,40,50], "labels": false, "title": null}},
   "y": {"field": "y", "type": "quantitative", "scale": {"domain": [0, 6], "nice": false}, "axis": {"orient": "right", "values": [0,1,2,3,4,5,6], "labels": false, "title": null}},
   "text": {"field": "t"}}}
], "resolve": {"axis": {"x": "independent", "y": "independent"}}}
], "spacing": 25}
],
"config": {
 "font": "Liberation Sans",
 "view": {"stroke": "#888", "strokeWidth": 1},
 "axis": {"grid": false, "domain": false, "labelFont": "Liberation Sans", "labelFontSize": 9, "labelColor": "#555", "tickColor": "#777", "tickSize": -3, "labelPadding": 4, "titleFont": "Liberation Sans", "titleFontSize": 12, "titleFontWeight": "normal", "titleColor": "#000", "minExtent": 0},
 "axisX": {"titlePadding": 5},
 "axisY": {"titlePadding": 6}
}
}
